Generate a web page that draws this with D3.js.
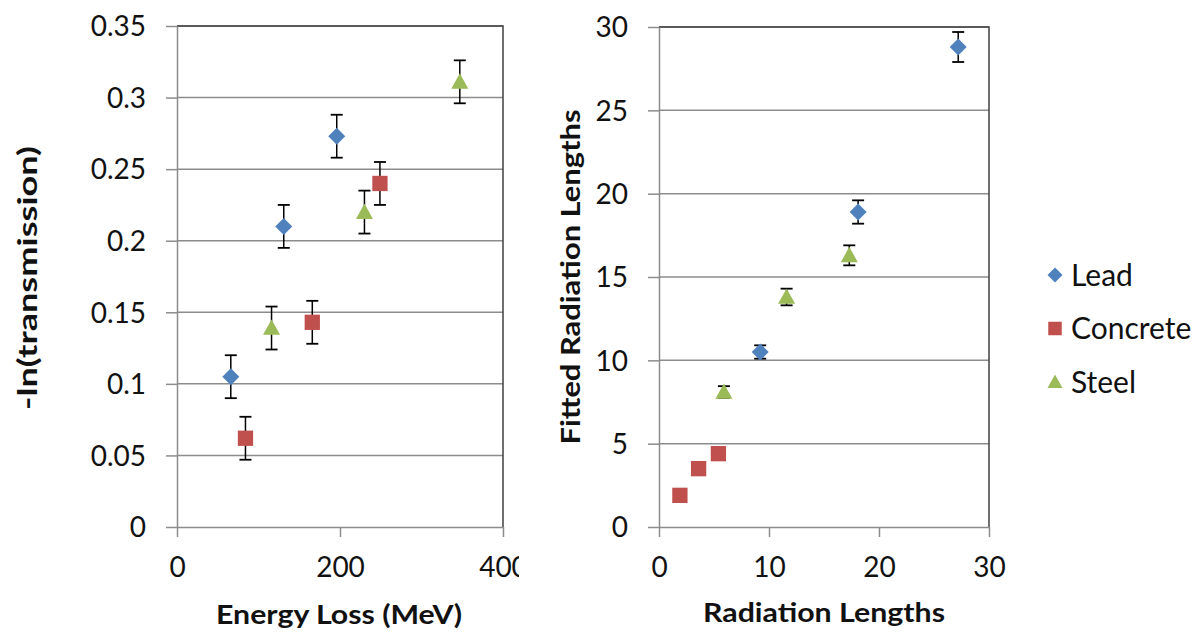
<!DOCTYPE html>
<html>
<head>
<meta charset="utf-8">
<script src="https://cdn.jsdelivr.net/npm/d3@7"></script>
<style>
  body { margin: 0; background: #fff; }
  #visualization { width: 1203px; height: 633px; }
  text { font-family: Lato, "Liberation Sans", sans-serif; fill: #111; }
</style>
</head>
<body>
<div id="visualization"></div>
<script>
// Data
const seriesNames = ['Lead', 'Concrete', 'Steel'];
const seriesColors = ['#4F81BD', '#C0504D', '#9BBB59'];

// left panel: energy loss vs -ln(transmission)
const leadEnergy = [66, 131, 196];
const leadLnT = [0.105, 0.210, 0.273];
const leadLnTErr = [0.015, 0.015, 0.015];
const concreteEnergy = [84, 166, 249];
const concreteLnT = [0.062, 0.143, 0.240];
const concreteLnTErr = [0.015, 0.015, 0.015];
const steelEnergy = [116, 230, 347];
const steelLnT = [0.139, 0.220, 0.311];
const steelLnTErr = [0.015, 0.015, 0.015];

// right panel: radiation lengths vs fitted radiation lengths
const leadRadLen = [9.2, 18.1, 27.2];
const leadFitted = [10.5, 18.9, 28.8];
const leadFittedErr = [0.4, 0.7, 0.9];
const concreteRadLen = [1.9, 3.6, 5.4];
const concreteFitted = [1.9, 3.5, 4.4];
const concreteFittedErr = [0.1, 0.1, 0.1];
const steelRadLen = [5.9, 11.6, 17.3];
const steelFitted = [8.1, 13.8, 16.3];
const steelFittedErr = [0.35, 0.5, 0.6];

const leftXTicks = [0, 200, 400];
const leftYTicks = [0, 0.05, 0.1, 0.15, 0.2, 0.25, 0.3, 0.35];
const rightXTicks = [0, 10, 20, 30];
const rightYTicks = [0, 5, 10, 15, 20, 25, 30];

const container = document.querySelector('#visualization');
const width = 1203;
const height = 633;

const svg = d3.select(container).append('svg')
  .attr('width', width)
  .attr('height', height);

const defs = svg.append('defs');
defs.append('clipPath').attr('id', 'leftClip')
  .append('rect').attr('x', 0).attr('y', 0).attr('width', 519).attr('height', height);

function pts(xs, ys, es) {
  return xs.map((x, i) => ({ x: x, y: ys[i], e: es[i] }));
}

const leftSeries = [
  pts(leadEnergy, leadLnT, leadLnTErr),
  pts(concreteEnergy, concreteLnT, concreteLnTErr),
  pts(steelEnergy, steelLnT, steelLnTErr)
];
const rightSeries = [
  pts(leadRadLen, leadFitted, leadFittedErr),
  pts(concreteRadLen, concreteFitted, concreteFittedErr),
  pts(steelRadLen, steelFitted, steelFittedErr)
];

// excel-like marker shapes, r = half size
function markerPath(i, r) {
  if (i === 0) return `M0,${-r}L${r},0L0,${r}L${-r},0Z`;
  if (i === 1) { const s = r * 0.9; return `M${-s},${-s}H${s}V${s}H${-s}Z`; }
  return `M0,${-r}L${r},${r * 0.8}H${-r}Z`;
}

function drawMarker(g, i, x, y, r) {
  g.append('path')
    .attr('d', markerPath(i, r || 8.5))
    .attr('transform', `translate(${x},${y})`)
    .attr('fill', seriesColors[i]);
}

function panel(opts) {
  const g = svg.append('g');
  if (opts.clip) g.attr('clip-path', 'url(#leftClip)');
  const x = d3.scaleLinear().domain(opts.xDomain).range(opts.xRange);
  const y = d3.scaleLinear().domain(opts.yDomain).range(opts.yRange);
  const [x0, x1] = opts.xRange;
  const [y0, y1] = opts.yRange;

  // gridlines
  g.append('g').selectAll('line')
    .data(opts.yTicks.slice(1))
    .join('line')
    .attr('x1', x0).attr('x2', x1)
    .attr('y1', d => y(d)).attr('y2', d => y(d))
    .attr('stroke', '#8c8c8c').attr('stroke-width', 1.5);

  // plot border (top / right)
  g.append('path')
    .attr('d', `M${x0},${y1}H${x1}V${y0}`)
    .attr('fill', 'none').attr('stroke', '#404040').attr('stroke-width', 1.5);

  // axes
  const yAxis = g.append('g')
    .attr('transform', `translate(${x0},0)`)
    .call(d3.axisLeft(y).tickValues(opts.yTicks).tickSizeInner(11).tickSizeOuter(0)
      .tickPadding(20).tickFormat(opts.yFormat));
  const xAxis = g.append('g')
    .attr('transform', `translate(0,${y0})`)
    .call(d3.axisBottom(x).tickValues(opts.xTicks).tickSizeInner(10).tickSizeOuter(0)
      .tickPadding(20).tickFormat(d3.format('d')));
  [yAxis, xAxis].forEach(a => {
    a.select('.domain').attr('stroke', '#8c8c8c').attr('stroke-width', 1.5);
    a.selectAll('.tick line').attr('stroke', '#8c8c8c').attr('stroke-width', 1.5);
    a.selectAll('.tick text')
      .style('font-family', 'Lato, sans-serif')
      .style('font-size', '28px')
      .attr('fill', '#111');
  });
  yAxis.selectAll('.tick text').attr('dy', '0.35em');

  // error bars + markers
  opts.series.forEach((data, i) => {
    const sg = g.append('g');
    data.forEach(d => {
      const cx = x(d.x);
      const top = y(d.y + d.e);
      const bot = y(d.y - d.e);
      sg.append('line')
        .attr('x1', cx).attr('x2', cx).attr('y1', top).attr('y2', bot)
        .attr('stroke', '#000').attr('stroke-width', 1.5);
      [top, bot].forEach(v => sg.append('line')
        .attr('x1', cx - 6).attr('x2', cx + 6).attr('y1', v).attr('y2', v)
        .attr('stroke', '#000').attr('stroke-width', 1.8));
      drawMarker(sg, i, cx, y(d.y));
    });
  });

  // axis titles
  g.append('text')
    .attr('x', opts.xTitleX)
    .attr('y', opts.xTitleY)
    .attr('text-anchor', 'middle')
    .attr('textLength', opts.xTitleLen)
    .attr('lengthAdjust', 'spacingAndGlyphs')
    .style('font-size', '26px')
    .style('font-weight', 'bold')
    .text(opts.xTitle);
  g.append('text')
    .attr('transform', `translate(${opts.yTitleX},${opts.yTitleY}) rotate(-90)`)
    .attr('text-anchor', 'middle')
    .attr('textLength', opts.yTitleLen)
    .attr('lengthAdjust', 'spacingAndGlyphs')
    .style('font-size', '26px')
    .style('font-weight', 'bold')
    .text(opts.yTitle);
}

panel({
  xDomain: [0, 400], xRange: [177, 503],
  yDomain: [0, 0.35], yRange: [527, 26],
  xTicks: leftXTicks, yTicks: leftYTicks,
  yFormat: d => String(+d.toFixed(2)),
  series: leftSeries,
  xTitle: 'Energy Loss (MeV)', xTitleX: 339, xTitleY: 624, xTitleLen: 246,
  yTitle: '-ln(transmission)', yTitleX: 37, yTitleY: 278, yTitleLen: 264,
  clip: true
});

panel({
  xDomain: [0, 30], xRange: [659, 989],
  yDomain: [0, 30], yRange: [527, 27],
  xTicks: rightXTicks, yTicks: rightYTicks,
  yFormat: d3.format('d'),
  series: rightSeries,
  xTitle: 'Radiation Lengths', xTitleX: 824, xTitleY: 622, xTitleLen: 242,
  yTitle: 'Fitted Radiation Lengths', yTitleX: 580, yTitleY: 277, yTitleLen: 335
});

// legend
const legend = svg.append('g').attr('transform', 'translate(1055,275)');
seriesNames.forEach((name, i) => {
  const row = legend.append('g').attr('transform', `translate(0,${i * 53.5})`);
  drawMarker(row, i, 0, 0, 7.5);
  row.append('text')
    .attr('x', 16)
    .attr('y', 0)
    .attr('dy', '0.35em')
    .style('font-size', '30px')
    .text(name);
});
</script>
</body>
</html>
